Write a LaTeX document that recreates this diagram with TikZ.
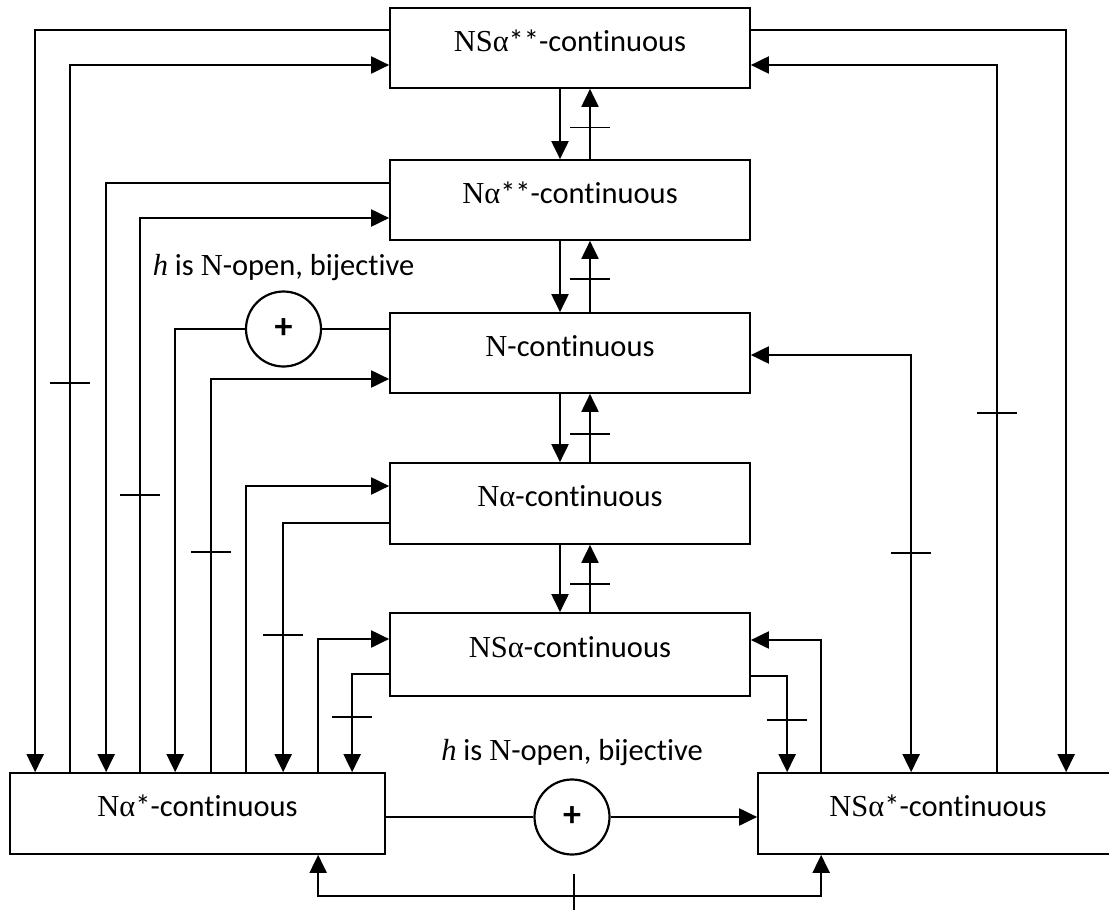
\documentclass[tikz,border=0pt]{standalone}
\usepackage{fontspec}
\setmainfont{Carlito}[Ligatures={NoCommon}]
\newfontfamily\sr{Liberation Serif}
\usetikzlibrary{arrows.meta,calc}
\newcommand\myal{{\sr α}}
\newcommand\myN{{\sr N}}
\newcommand\myS{{\sr S}}
\tikzset{
 box/.style={draw,line width=1.7pt,minimum width=360pt,minimum height=80pt,inner sep=0pt,text height=18pt,text depth=12pt,font=\fontsize{30.5}{36}\selectfont},
 con/.style={line width=2pt},
 arr/.style={con,-{Triangle[length=18pt,width=17pt]}},
 darr/.style={con,{Triangle[length=18pt,width=17pt]}-{Triangle[length=18pt,width=17pt]}},
 plus/.style={draw,circle,line width=2.2pt,minimum size=75pt,inner sep=0pt,font=\fontsize{36}{40}\selectfont\bfseries},
 lbl/.style={font=\fontsize{30.5}{36}\selectfont,inner sep=0pt},
 tk/.style={line width=1.9pt}
}
\newcommand\vtick[1]{\draw[tk] ([xshift=-20pt]#1) -- ([xshift=20pt]#1);}
\newcommand\htick[1]{\draw[tk] ([yshift=22pt]#1) -- ([yshift=-22pt]#1);}
\begin{document}
\begin{tikzpicture}[x=1pt,y=-1pt]
\useasboundingbox (0,0) rectangle (1109,910);
% boxes
\node[box] (A) at (570,48) {\myN\myS\myal**-continuous};
\node[box] (B) at (570,200) {\myN\myal**-continuous};
\node[box] (C) at (570,353) {\myN-continuous};
\node[box,minimum height=81pt] (D) at (570,503.5) {\myN\myal-continuous};
\node[box,minimum height=83pt] (E) at (570,654.5) {\myN\myS\myal-continuous};
\node[box,minimum width=375pt,minimum height=81pt] (F) at (197.5,813.5) {\myN\myal*-continuous};
\node[box,minimum height=81pt] (G) at (938,813.5) {\myN\myS\myal*-continuous};
% circles
\node[plus] (P1) at (283.5,329) {+};
\node[plus] (P2) at (572,817) {+};
\node[lbl,anchor=base] (L1) at ([yshift=54pt]P1.center) {{\sr\itshape h} is \myN-open, bijective};
\node[lbl,anchor=base] (L2) at ([yshift=57pt]P2.center) {{\sr\itshape h} is \myN-open, bijective};
% central chain
\draw[arr] ([xshift=-10pt]A.south) -- ([xshift=-10pt]B.north);
\draw[arr] ([xshift=20pt]B.north) -- coordinate[pos=0.45] (t1) ([xshift=20pt]A.south);
\draw[arr] ([xshift=-10pt]B.south) -- ([xshift=-10pt]C.north);
\draw[arr] ([xshift=20pt]C.north) -- coordinate[pos=0.466] (t2) ([xshift=20pt]B.south);
\draw[arr] ([xshift=-10pt]C.south) -- ([xshift=-10pt]D.north);
\draw[arr] ([xshift=20pt]D.north) -- coordinate[pos=0.414] (t3) ([xshift=20pt]C.south);
\draw[arr] ([xshift=-10pt]D.south) -- ([xshift=-10pt]E.north);
\draw[arr] ([xshift=20pt]E.north) -- coordinate[pos=0.42] (t4) ([xshift=20pt]D.south);
\vtick{t1}\vtick{t2}\vtick{t3}\vtick{t4}
% left side
\draw[arr] ([yshift=18pt]A.west) -| ([xshift=26pt]F.north west);
\draw[arr] ([xshift=61pt]F.north west) |- coordinate[pos=0.275] (l2) ([yshift=-17pt]A.west);
\draw[arr] ([yshift=17pt]B.west) -| ([xshift=97pt]F.north west);
\draw[arr] ([xshift=131pt]F.north west) |- coordinate[pos=0.25] (l4) ([yshift=-18pt]B.west);
\draw[con] ([yshift=24pt]C.west) -- (P1.east);
\draw[arr] (P1.west) -| ([xshift=166pt]F.north west);
\draw[arr] ([xshift=202pt]F.north west) |- coordinate[pos=0.28] (l6) ([yshift=-26pt]C.west);
\draw[arr] ([xshift=237pt]F.north west) |- ([yshift=17.5pt]D.west);
\draw[arr] ([yshift=-19.5pt]D.west) -| coordinate[pos=0.724] (l8) ([xshift=274pt]F.north west);
\draw[arr] ([xshift=309pt]F.north west) |- ([yshift=15.5pt]E.west);
\draw[arr] ([yshift=-19.5pt]E.west) -| coordinate[pos=0.717] (l10) ([xshift=343pt]F.north west);
\vtick{l2}\vtick{l4}\vtick{l6}\vtick{l8}\vtick{l10}
% right side
\draw[arr] ([yshift=18pt]A.east) -| ([xshift=309pt]G.north west);
\draw[arr] ([xshift=240pt]G.north west) |- coordinate[pos=0.254] (r2) ([yshift=-17pt]A.east);
\draw[darr] ([yshift=-2pt]C.east) -| coordinate[pos=0.737] (r3) ([xshift=154pt]G.north west);
\draw[arr] ([xshift=64pt]G.north west) |- ([yshift=14.5pt]E.east);
\draw[arr] ([yshift=-21.5pt]E.east) -| coordinate[pos=0.727] (r5) ([xshift=30pt]G.north west);
\vtick{r2}\vtick{r3}\vtick{r5}
% bottom
\draw[con] (F.east |- P2.west) -- (P2.west);
\draw[arr] (P2.east) -- (G.west |- P2.east);
\draw[darr] ([xshift=309pt]F.south west) -- ++(0,41) -| coordinate[pos=0.2545] (b1) ([xshift=64pt]G.south west);
\htick{b1}
\end{tikzpicture}
\end{document}
